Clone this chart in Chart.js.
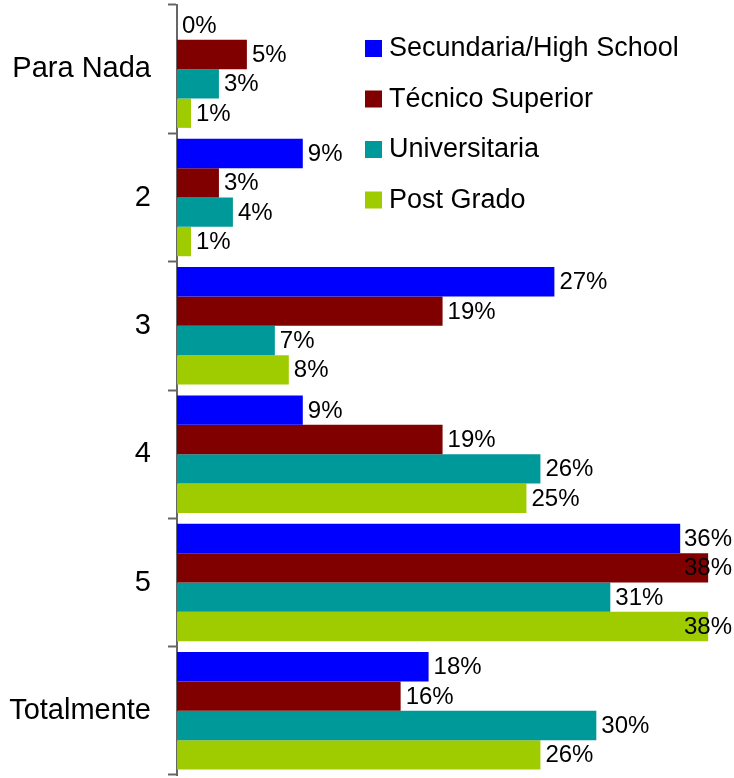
<!DOCTYPE html>
<html>
<head>
<meta charset="utf-8">
<script src="https://cdn.jsdelivr.net/npm/chart.js@4/dist/chart.umd.min.js"></script>
<style>
  html, body { margin: 0; padding: 0; background: #fff; }
  #wrap { width: 734px; height: 778px; position: relative; }
</style>
</head>
<body>
<div id="wrap"><canvas id="rm-bar-canvas"></canvas></div>
<script>
var categories = ['Para Nada', '2', '3', '4', '5', 'Totalmente'];
var seriesNames = ['Secundaria/High School', 'Técnico Superior', 'Universitaria', 'Post Grado'];
var secundaria = [0, 9, 27, 9, 36, 18];
var tecnico = [5, 3, 19, 19, 38, 16];
var universitaria = [3, 4, 7, 26, 31, 30];
var postGrado = [1, 1, 8, 25, 38, 26];
var seriesColors = ['#0000ff', '#800000', '#009999', '#9fcc00'];

var FONT = '"Liberation Sans", Arial, sans-serif';

// value labels at the end of each bar (pushed back inside if they hit the edge)
var valueLabels = {
  id: 'valueLabels',
  afterDatasetsDraw: function (chart) {
    var ctx = chart.ctx;
    ctx.save();
    ctx.font = '24px ' + FONT;
    ctx.fillStyle = '#000';
    ctx.textBaseline = 'middle';
    ctx.textAlign = 'left';
    chart.data.datasets.forEach(function (ds, i) {
      chart.getDatasetMeta(i).data.forEach(function (bar, j) {
        var txt = ds.data[j] + '%';
        var w = ctx.measureText(txt).width;
        var x = Math.min(bar.x + 5, chart.width - w - 2);
        ctx.fillText(txt, x, bar.y + 1);
      });
    });
    ctx.restore();
  }
};

// legend drawn inside the plot, top right
var insideLegend = {
  id: 'insideLegend',
  afterDraw: function (chart) {
    var ctx = chart.ctx;
    ctx.save();
    ctx.font = '27px ' + FONT;
    ctx.textBaseline = 'middle';
    ctx.textAlign = 'left';
    chart.data.datasets.forEach(function (ds, i) {
      var y = 48 + i * 50.5;
      ctx.fillStyle = ds.backgroundColor;
      ctx.fillRect(365, y - 8, 17, 17);
      ctx.fillStyle = '#000';
      ctx.fillText(ds.label, 389, y + 1);
    });
    ctx.restore();
  }
};

var datasets = [secundaria, tecnico, universitaria, postGrado].map(function (vals, i) {
  return {
    label: seriesNames[i],
    data: vals,
    backgroundColor: seriesColors[i],
    borderWidth: 0,
    categoryPercentage: 0.915,
    barPercentage: 1
  };
});

new Chart(document.getElementById('rm-bar-canvas'), {
  type: 'bar',
  data: { labels: categories, datasets: datasets },
  plugins: [valueLabels, insideLegend],
  options: {
    indexAxis: 'y',
    responsive: true,
    maintainAspectRatio: false,
    animation: false,
    layout: { padding: { top: 5, bottom: 3, left: 0, right: 0 } },
    plugins: {
      legend: { display: false },
      tooltip: { enabled: false }
    },
    scales: {
      x: {
        display: false,
        min: 0,
        max: 39.85
      },
      y: {
        afterFit: function (scale) {
          scale.width = 177;
          scale.paddingTop = 0;
          scale.paddingBottom = 0;
        },
        border: { display: true, color: '#666', width: 2 },
        grid: {
          offset: true,
          drawOnChartArea: false,
          drawTicks: true,
          tickLength: 9,
          tickWidth: 2,
          tickColor: '#666'
        },
        ticks: {
          color: '#000',
          padding: 17,
          font: { family: FONT, size: 29 }
        }
      }
    }
  }
});
</script>
</body>
</html>
